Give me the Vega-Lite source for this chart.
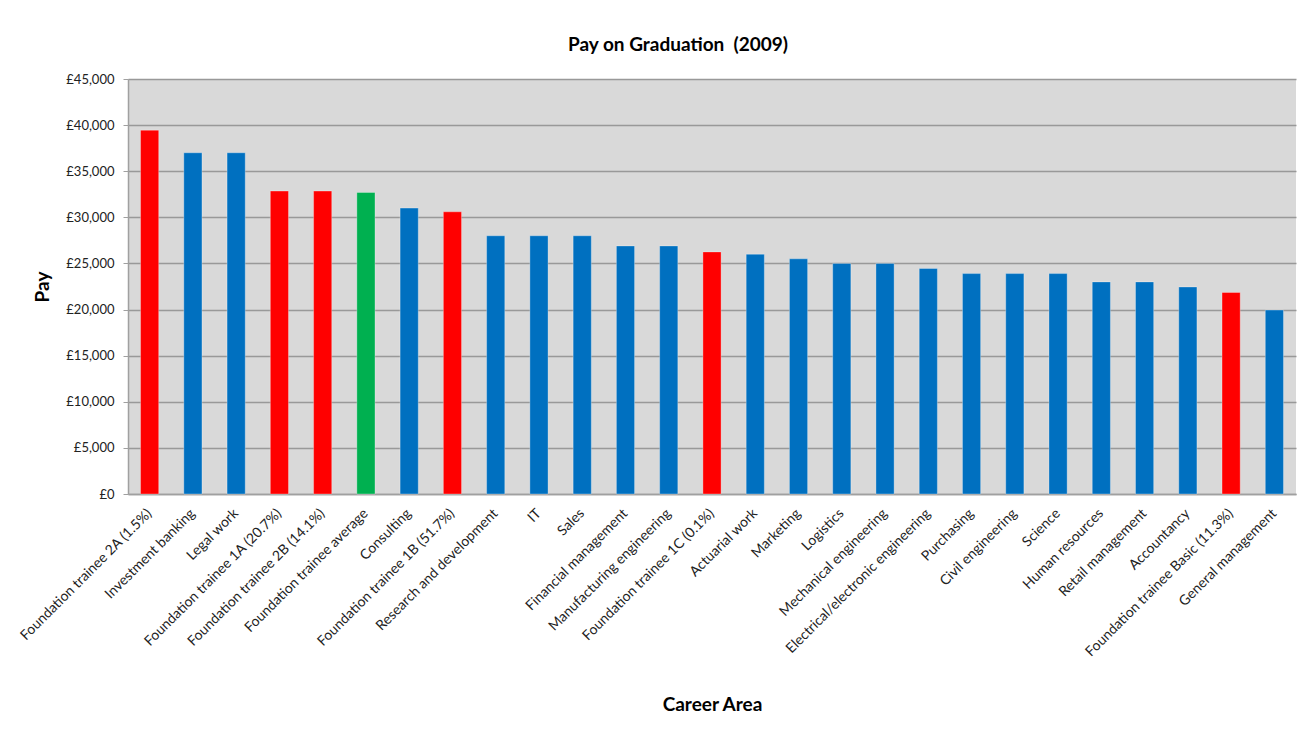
{
  "$schema": "https://vega.github.io/schema/vega-lite/v6.json",
  "autosize": {"type": "none"},
  "padding": {"left": 128, "top": 79, "right": 12, "bottom": 235},
  "width": 1168,
  "height": 415,
  "background": "white",
  "title": {
    "text": "Pay on Graduation \u00a0(2009)",
    "font": "Lato",
    "fontSize": 19,
    "fontWeight": "bold",
    "color": "#000000",
    "anchor": "middle",
    "dx": -34,
    "offset": 18
  },
  "data": {
    "values": [
      {"area": "Foundation trainee 2A (1.5%)", "pay": 39450, "group": "Foundation trainee"},
      {"area": "Investment banking", "pay": 37000, "group": "Career area"},
      {"area": "Legal work", "pay": 37000, "group": "Career area"},
      {"area": "Foundation trainee 1A (20.7%)", "pay": 32850, "group": "Foundation trainee"},
      {"area": "Foundation trainee 2B (14.1%)", "pay": 32850, "group": "Foundation trainee"},
      {"area": "Foundation trainee average", "pay": 32700, "group": "Foundation trainee average"},
      {"area": "Consulting", "pay": 31000, "group": "Career area"},
      {"area": "Foundation trainee 1B (51.7%)", "pay": 30600, "group": "Foundation trainee"},
      {"area": "Research and development", "pay": 28000, "group": "Career area"},
      {"area": "IT", "pay": 28000, "group": "Career area"},
      {"area": "Sales", "pay": 28000, "group": "Career area"},
      {"area": "Financial management", "pay": 26900, "group": "Career area"},
      {"area": "Manufacturing engineering", "pay": 26900, "group": "Career area"},
      {"area": "Foundation trainee 1C (0.1%)", "pay": 26250, "group": "Foundation trainee"},
      {"area": "Actuarial work", "pay": 26000, "group": "Career area"},
      {"area": "Marketing", "pay": 25500, "group": "Career area"},
      {"area": "Logistics", "pay": 25000, "group": "Career area"},
      {"area": "Mechanical engineering", "pay": 25000, "group": "Career area"},
      {"area": "Electrical/electronic engineering", "pay": 24450, "group": "Career area"},
      {"area": "Purchasing", "pay": 23900, "group": "Career area"},
      {"area": "Civil engineering", "pay": 23900, "group": "Career area"},
      {"area": "Science", "pay": 23900, "group": "Career area"},
      {"area": "Human resources", "pay": 23000, "group": "Career area"},
      {"area": "Retail management", "pay": 23000, "group": "Career area"},
      {"area": "Accountancy", "pay": 22450, "group": "Career area"},
      {"area": "Foundation trainee Basic (11.3%)", "pay": 21850, "group": "Foundation trainee"},
      {"area": "General management", "pay": 19950, "group": "Career area"}
    ]
  },
  "mark": {"type": "bar", "stroke": "white", "strokeOpacity": 0.3, "strokeWidth": 1},
  "encoding": {
    "x": {
      "field": "area",
      "type": "nominal",
      "sort": null,
      "scale": {"paddingInner": 0.58, "paddingOuter": 0.29},
      "axis": {
        "title": "Career Area",
        "titleFont": "Lato",
        "titleFontSize": 19,
        "titleFontWeight": "bold",
        "titleColor": "#000000",
        "titlePadding": 37,
        "labelAngle": -45,
        "labelAlign": "right",
        "labelBaseline": "middle",
        "labelFont": "Lato",
        "labelFontSize": 14,
        "labelColor": "#222222",
        "labelPadding": 17,
        "labelLimit": 400,
        "ticks": false,
        "domainColor": "#a0a0a0",
        "domainWidth": 1.5,
        "grid": false
      }
    },
    "y": {
      "field": "pay",
      "type": "quantitative",
      "scale": {"domain": [0, 45000], "nice": false},
      "axis": {
        "title": "Pay",
        "titleFont": "Lato",
        "titleFontSize": 19,
        "titleFontWeight": "bold",
        "titleColor": "#000000",
        "titlePadding": 13,
        "values": [0, 5000, 10000, 15000, 20000, 25000, 30000, 35000, 40000, 45000],
        "labelExpr": "'£' + format(datum.value, ',')",
        "labelFont": "Lato",
        "labelFontSize": 13,
        "labelColor": "#222222",
        "labelPadding": 9,
        "tickSize": 5,
        "tickColor": "#a0a0a0",
        "domainColor": "#a0a0a0",
        "domainWidth": 1.5,
        "grid": true,
        "gridColor": "#999999",
        "gridWidth": 1.5
      }
    },
    "color": {
      "field": "group",
      "type": "nominal",
      "scale": {
        "domain": ["Foundation trainee", "Career area", "Foundation trainee average"],
        "range": ["#ff0000", "#0070c0", "#00b050"]
      },
      "legend": null
    }
  },
  "config": {
    "view": {"fill": "#d9d9d9", "stroke": null}
  }
}
